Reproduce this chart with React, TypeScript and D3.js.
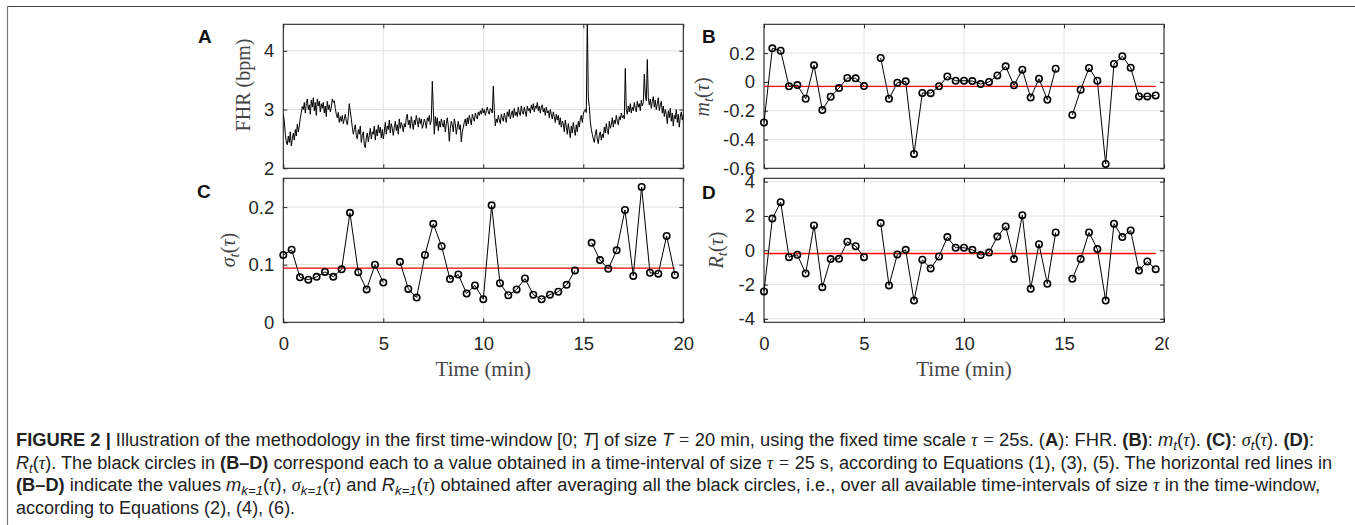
import React, { useEffect, useRef } from "react";
import * as d3 from "d3";

// FHR trace, one reading every 0.05 min from 0 to 20 min (one row per minute)
const fhrValues = [
  2.92, 2.80, 2.58, 2.45, 2.40, 2.55, 2.44, 2.62, 2.38, 2.50, 2.60, 2.48, 2.66, 2.55, 2.75, 2.62, 2.72, 2.85, 2.95, 3.05,
  3.00, 3.12, 2.94, 3.10, 3.18, 3.00, 3.08, 2.92, 3.16, 3.04, 3.20, 2.98, 3.12, 2.90, 3.18, 3.06, 3.14, 2.96, 3.10, 3.02,
  3.12, 2.94, 3.06, 2.88, 3.14, 3.00, 3.08, 2.96, 3.04, 3.18, 3.12, 3.15, 3.02, 2.92, 2.86, 2.95, 2.78, 2.88, 2.80, 2.90,
  2.76, 2.84, 2.92, 2.80, 2.74, 2.88, 3.10, 2.96, 2.84, 2.70, 2.58, 2.66, 2.74, 2.56, 2.50, 2.66, 2.58, 2.72, 2.44, 2.56,
  2.62, 2.40, 2.35, 2.52, 2.60, 2.45, 2.56, 2.68, 2.50, 2.62, 2.58, 2.72, 2.48, 2.66, 2.55, 2.74, 2.60, 2.70, 2.52, 2.66,
  2.50, 2.62, 2.78, 2.58, 2.72, 2.66, 2.82, 2.60, 2.76, 2.68, 2.56, 2.70, 2.80, 2.64, 2.74, 2.58, 2.84, 2.68, 2.78, 2.72,
  2.62, 2.76, 2.70, 2.86, 2.92, 2.74, 2.82, 2.68, 2.88, 2.76, 2.66, 2.82, 2.74, 2.90, 2.80, 2.70, 2.86, 2.76, 2.84, 2.68,
  2.74, 2.84, 2.78, 2.68, 2.86, 2.80, 2.90, 2.74, 2.82, 3.48, 3.00, 2.58, 2.88, 2.72, 2.86, 2.64, 2.80, 2.70, 2.84, 2.76,
  2.70, 2.82, 2.62, 2.76, 2.86, 2.72, 2.46, 2.68, 2.80, 2.74, 2.62, 2.84, 2.76, 2.58, 2.70, 2.80, 2.66, 2.74, 2.45, 2.62,
  2.70, 2.78, 2.84, 2.72, 2.86, 2.76, 2.90, 2.82, 2.74, 2.92, 2.86, 2.80, 2.94, 2.88, 2.84, 2.96, 2.90, 2.98, 2.92, 3.02,
  2.94, 3.00, 2.90, 2.98, 3.04, 2.96, 2.92, 3.02, 3.00, 2.94, 3.40, 2.98, 2.72, 2.84, 2.78, 2.90, 2.82, 2.76, 2.92, 2.86,
  2.80, 2.94, 2.86, 2.78, 2.96, 2.88, 3.00, 2.84, 2.92, 2.98, 2.86, 3.02, 2.90, 2.96, 2.88, 3.04, 2.94, 2.90, 3.06, 2.96,
  2.92, 3.04, 2.96, 2.88, 3.06, 2.98, 3.02, 2.94, 3.08, 3.00, 3.10, 2.96, 3.06, 3.02, 3.12, 2.98, 3.06, 2.94, 3.04, 3.08,
  2.96, 3.02, 2.90, 3.04, 2.94, 2.98, 2.86, 3.00, 2.92, 2.84, 2.96, 2.88, 2.78, 2.92, 2.82, 2.90, 2.74, 2.86, 2.70, 2.80,
  2.76, 2.62, 2.82, 2.70, 2.58, 2.76, 2.64, 2.52, 2.72, 2.60, 2.78, 2.66, 2.56, 2.74, 2.62, 2.80, 2.70, 2.84, 2.90, 2.78,
  2.92, 2.98, 3.00, 2.95, 4.60, 3.20, 3.05, 2.80, 2.66, 2.58, 2.50, 2.44, 2.58, 2.66, 2.50, 2.42, 2.56, 2.62, 2.48, 2.58,
  2.52, 2.70, 2.60, 2.76, 2.64, 2.58, 2.80, 2.68, 2.74, 2.86, 2.70, 2.82, 2.76, 2.90, 2.80, 2.74, 2.88, 2.82, 2.94, 2.86,
  2.90, 2.84, 3.70, 3.00, 2.92, 3.06, 2.96, 3.10, 2.94, 3.04, 2.98, 3.12, 3.02, 2.96, 3.14, 3.04, 3.10, 2.98, 3.16, 3.06,
  3.12, 3.60, 3.25, 3.15, 3.85, 3.20, 3.08, 3.18, 3.02, 3.14, 3.22, 3.04, 3.16, 3.00, 3.10, 3.20, 2.98, 3.08, 3.14, 2.94,
  3.06, 2.88, 3.00, 2.92, 2.76, 2.98, 2.86, 3.02, 2.80, 2.94, 2.72, 2.90, 2.84, 3.00, 2.78, 2.92, 2.70, 2.88, 2.96, 2.82,
  2.92,
];
const fhrStep = 0.05; // min

// one value per 25 s interval (null = interval without value)
const intervalMin = 25 / 60;
const mValues = [
  -0.282, 0.233, 0.217, -0.031, -0.022, -0.117, 0.115, -0.196, -0.103, -0.043, 0.027, 0.025, -0.029,
  null,
  0.166, -0.117, -0.006, 0.004, -0.5, -0.077, -0.078, -0.031, 0.038, 0.008, 0.008, 0.006, -0.015, 0.0,
  0.045, 0.108, -0.024, 0.085, -0.108, 0.022, -0.124, 0.092,
  null,
  -0.229, -0.054, 0.097, 0.008, -0.57, 0.125, 0.178, 0.099, -0.101, -0.101, -0.094,
];
const sigmaValues = [
  0.117, 0.126, 0.078, 0.074, 0.079, 0.0875, 0.079, 0.092, 0.19, 0.087, 0.057, 0.1, 0.069,
  null,
  0.105, 0.058, 0.043, 0.117, 0.171, 0.132, 0.075, 0.083, 0.05, 0.064, 0.04, 0.203, 0.068, 0.047,
  0.057, 0.076, 0.048, 0.04, 0.048, 0.053, 0.065, 0.09,
  null,
  0.138, 0.108, 0.093, 0.125, 0.195, 0.0805, 0.235, 0.086, 0.0845, 0.15, 0.082,
];
const rValues = [
  -2.4, 1.85, 2.81, -0.4, -0.26, -1.35, 1.45, -2.15, -0.51, -0.5, 0.5, 0.24, -0.4,
  null,
  1.59, -2.05, -0.24, 0.03, -2.93, -0.55, -1.06, -0.36, 0.77, 0.15, 0.15, 0.03, -0.28, -0.13,
  0.8, 1.39, -0.51, 2.05, -2.25, 0.36, -1.95, 1.04,
  null,
  -1.66, -0.51, 1.04, 0.07, -2.93, 1.55, 0.77, 1.16, -1.18, -0.65, -1.1,
];

// averages (red lines)
const mMean = -0.031;
const sigmaMean = 0.094;
const rMean = -0.19;

const xTicks = [0, 5, 10, 15, 20];
const fhrTicks = [2, 3, 4];
const mTicks = [-0.6, -0.4, -0.2, 0, 0.2];
const sigmaTicks = [0, 0.1, 0.2];
const rTicks = [-4, -2, 0, 2, 4];

const caption = [
  [["FIGURE 2 |", "b"], [" Illustration of the methodology in the first time-window [0; ", "r"], ["T", "i"], ["] of size ", "r"], ["T", "i"],
   [" = ", "m"], ["20 min, using the fixed time scale ", "r"], ["τ", "m"], [" = ", "m"], ["25s. (", "r"], ["A", "b"], ["): FHR. ", "r"],
   ["(B)", "b"], [": ", "r"], ["m", "i"], ["t", "s"], ["(", "r"], ["τ", "m"], [")", "r"], [". ", "r"], ["(C)", "b"], [": ", "r"],
   ["σ", "m"], ["t", "s"], ["(", "r"], ["τ", "m"], [")", "r"], [". ", "r"], ["(D)", "b"], [":", "r"]],
  [["R", "i"], ["t", "s"], ["(", "r"], ["τ", "m"], [")", "r"], [". The black circles in ", "r"], ["(B–D)", "b"],
   [" correspond each to a value obtained in a time-interval of size ", "r"], ["τ", "m"], [" = ", "m"],
   ["25 s, according to Equations (1), (3), (5). The horizontal red lines in", "r"]],
  [["(B–D)", "b"], [" indicate the values ", "r"], ["m", "i"], ["k=1", "s"], ["(", "r"], ["τ", "m"], ["), ", "r"],
   ["σ", "m"], ["k=1", "s"], ["(", "r"], ["τ", "m"], [") and ", "r"], ["R", "i"], ["k=1", "s"], ["(", "r"], ["τ", "m"],
   [") obtained after averaging all the black circles, i.e., over all available time-intervals of size ", "r"], ["τ", "m"],
   [" in the time-window,", "r"]],
  [["according to Equations (2), (4), (6).", "r"]],
];
const captionWidths = [1298, 1316, 1304, null];

const W = 1355;
const H = 525;
const SANS = "'Liberation Sans', Arial, sans-serif";
const SERIF = "'Liberation Serif', 'DejaVu Serif', serif";
const NARROW = "'Liberation Sans Narrow', 'Liberation Sans', sans-serif";

const App = () => {
  const chartRef = useRef(null);

  useEffect(() => {
    draw();
  }, []);

  const draw = () => {
    const svg = d3.select(chartRef.current);
    svg.selectAll("*").remove();

    const defs = svg.append("defs");
    defs.append("clipPath").attr("id", "figclip")
      .append("rect").attr("x", 0).attr("y", 0).attr("width", 1169).attr("height", 400);

    // figure border
    svg.append("line").attr("x1", 7).attr("x2", W).attr("y1", 6.5).attr("y2", 6.5)
      .attr("stroke", "#444").attr("stroke-width", 1.2);
    svg.append("line").attr("x1", 7.5).attr("x2", 7.5).attr("y1", 6).attr("y2", H)
      .attr("stroke", "#777").attr("stroke-width", 1.2);

    const fig = svg.append("g").attr("clip-path", "url(#figclip)");

    // Draw one axes box, returns its scales
    const panel = (id, x0, y0, yDomain, yTicks, showX) => {
      const w = 400, h = 144;
      const x = d3.scaleLinear().domain([0, 20]).range([x0, x0 + w]);
      const y = d3.scaleLinear().domain(yDomain).range([y0 + h, y0]);
      const g = fig.append("g");

      defs.append("clipPath").attr("id", id)
        .append("rect").attr("x", x0).attr("y", y0).attr("width", w).attr("height", h);

      // grid
      g.append("g").selectAll("line").data(xTicks.filter(d => d > 0 && d < 20)).join("line")
        .attr("x1", d => x(d)).attr("x2", d => x(d)).attr("y1", y0).attr("y2", y0 + h)
        .attr("stroke", "#e2e2e2");
      g.append("g").selectAll("line").data(yTicks.filter(d => y(d) > y0 + 1 && y(d) < y0 + h - 1)).join("line")
        .attr("x1", x0).attr("x2", x0 + w).attr("y1", d => y(d)).attr("y2", d => y(d))
        .attr("stroke", "#e2e2e2");

      // axes (ticks point inwards)
      const left = g.append("g").attr("transform", `translate(${x0},0)`)
        .call(d3.axisLeft(y).tickValues(yTicks).tickFormat(d => String(d)).tickSize(-4).tickPadding(9));
      const right = g.append("g").attr("transform", `translate(${x0 + w},0)`)
        .call(d3.axisRight(y).tickValues(yTicks).tickFormat(() => "").tickSize(-4));
      const top = g.append("g").attr("transform", `translate(0,${y0})`)
        .call(d3.axisTop(x).tickValues(xTicks).tickFormat(() => "").tickSize(-4));
      const bottom = g.append("g").attr("transform", `translate(0,${y0 + h})`)
        .call(d3.axisBottom(x).tickValues(xTicks).tickFormat(d => (showX ? String(d) : "")).tickSize(-4).tickPadding(14.7));
      [left, right, top, bottom].forEach(a => {
        a.select(".domain").remove();
        a.attr("color", "#262626").attr("font-size", 18.5).attr("font-family", SANS);
        a.selectAll(".tick line").attr("stroke", "#262626");
      });

      g.append("rect").attr("x", x0).attr("y", y0).attr("width", w).attr("height", h)
        .attr("fill", "none").attr("stroke", "#262626").attr("stroke-width", 1.1);

      return { x, y, g };
    };

    const dots = (p, values, mean) => {
      const pts = values.map((v, k) => ({ t: k * intervalMin, v }));
      const line = d3.line().defined(d => d.v !== null).x(d => p.x(d.t)).y(d => p.y(d.v));
      const last = pts[pts.length - 1].t;
      p.g.append("line")
        .attr("x1", p.x(0)).attr("x2", p.x(last)).attr("y1", p.y(mean)).attr("y2", p.y(mean))
        .attr("stroke", "#ff0000").attr("stroke-width", 1.4);
      p.g.append("path").datum(pts).attr("d", line)
        .attr("fill", "none").attr("stroke", "#000").attr("stroke-width", 1);
      p.g.append("g").selectAll("circle").data(pts.filter(d => d.v !== null)).join("circle")
        .attr("cx", d => p.x(d.t)).attr("cy", d => p.y(d.v)).attr("r", 3.2)
        .attr("fill", "none").attr("stroke", "#000").attr("stroke-width", 1.6);
    };

    // A: FHR
    const pA = panel("clipA", 283.3, 24.3, [2, 4.45], fhrTicks, false);
    pA.g.append("path")
      .datum(fhrValues)
      .attr("clip-path", "url(#clipA)")
      .attr("fill", "none").attr("stroke", "#000").attr("stroke-width", 1)
      .attr("d", d3.line().x((d, i) => pA.x(i * fhrStep)).y(d => pA.y(d)));

    const pB = panel("clipB", 764, 24.3, [-0.6, 0.4], mTicks, false);
    dots(pB, mValues, mMean);
    const pC = panel("clipC", 283.3, 178.3, [0, 0.25], sigmaTicks, true);
    dots(pC, sigmaValues, sigmaMean);
    const pD = panel("clipD", 764, 178.3, [-4.2, 4.2], rTicks, true);
    dots(pD, rValues, rMean);

    // panel letters
    [["A", 198, 43], ["B", 702, 43], ["C", 197, 198], ["D", 702, 199]].forEach(([t, x, y]) => {
      fig.append("text").attr("x", x).attr("y", y).text(t)
        .attr("font-family", SANS).attr("font-weight", "bold").attr("font-size", 19).attr("fill", "#111");
    });

    // y labels
    const ylabel = (x, y, parts) => {
      const t = fig.append("text").attr("transform", `translate(${x},${y}) rotate(-90)`)
        .attr("text-anchor", "middle").attr("font-family", SERIF).attr("font-size", 20).attr("fill", "#444")
        .style("white-space", "pre");
      parts.forEach(([s, k]) => {
        const ts = t.append("tspan").text(s);
        if (k === "i") ts.attr("font-style", "italic");
        if (k === "s") ts.attr("font-style", "italic").attr("font-size", 15).attr("dy", 4);
        if (k === "r2") ts.attr("dy", -4);
      });
    };
    ylabel(250, 85, [["FHR (bpm)", "r"]]);
    ylabel(709, 97, [["m", "i"], ["t", "s"], ["(", "r2"], ["τ", "i"], [")", "r"]]);
    ylabel(235, 250, [["σ", "i"], ["t", "s"], ["(", "r2"], ["τ", "i"], [")", "r"]]);
    ylabel(723, 250, [["R", "i"], ["t", "s"], ["(", "r2"], ["τ", "i"], [")", "r"]]);

    // x labels
    [pC.x(10), pD.x(10)].forEach(cx => {
      fig.append("text").attr("x", cx).attr("y", 376).attr("text-anchor", "middle")
        .attr("font-family", SERIF).attr("font-size", 21).attr("fill", "#444").text("Time (min)");
    });

    // caption
    caption.forEach((line, i) => {
      const t = svg.append("text").attr("x", 16).attr("y", 446 + i * 22.5)
        .attr("font-family", NARROW).attr("font-size", 18).attr("fill", "#222")
        .style("white-space", "pre");
      if (captionWidths[i]) t.attr("textLength", captionWidths[i]).attr("lengthAdjust", "spacingAndGlyphs");
      let shifted = false;
      line.forEach(([s, k]) => {
        const ts = t.append("tspan").text(s);
        if (shifted && k !== "s") { ts.attr("dy", -4); shifted = false; }
        if (k === "b") ts.attr("font-weight", "bold");
        if (k === "i") ts.attr("font-style", "italic");
        if (k === "m") ts.attr("font-family", SERIF).attr("font-style", s.trim() ? "italic" : "normal");
        if (k === "s") { ts.attr("font-style", "italic").attr("font-size", 13).attr("dy", 4); shifted = true; }
      });
    });
  };

  return (
    <svg
      ref={chartRef}
      width={W}
      height={H}
      style={{ position: "absolute", left: 0, top: 0, background: "#fff" }}
    />
  );
};

export default App;
